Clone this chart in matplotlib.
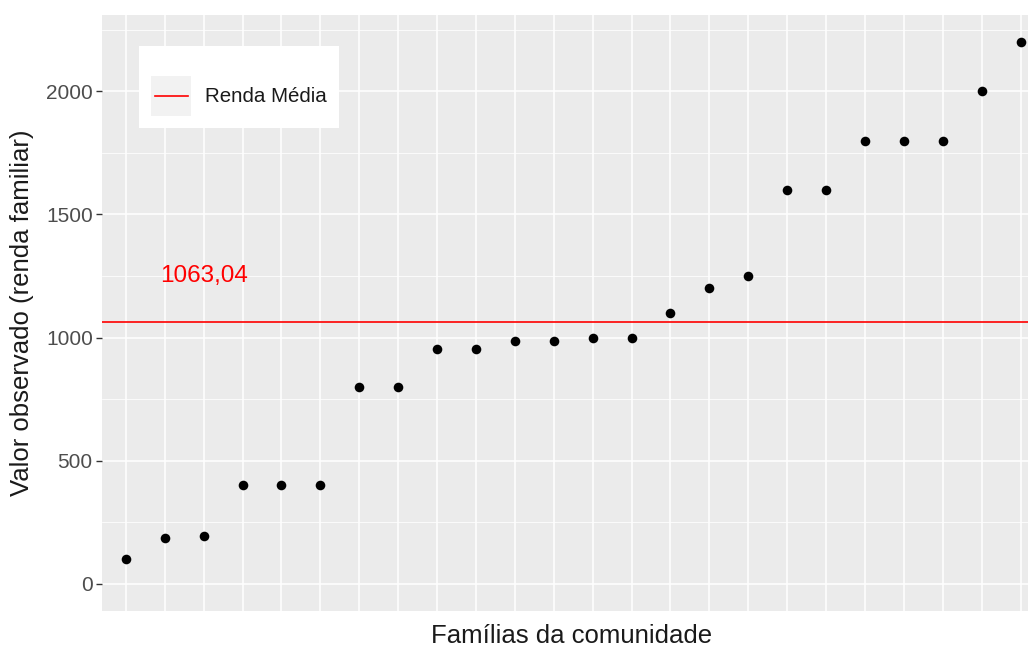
import numpy as np
import matplotlib
matplotlib.use("Agg")
import matplotlib.pyplot as plt
from matplotlib.legend_handler import HandlerBase
from matplotlib.patches import Rectangle
from matplotlib.lines import Line2D

# Renda familiar observada, ordenada
renda = [100, 185, 195, 400, 400, 400, 800, 800, 955, 955, 985, 985,
         1000, 1000, 1100, 1200, 1250, 1600, 1600, 1800, 1800, 1800, 2000, 2200]
media = 1063.04
media_label = "1063,04"
y_ticks = [0, 500, 1000, 1500, 2000]


class KeyHandler(HandlerBase):
	"""ggplot-like legend key: grey square with a short line."""

	def create_artists(self, legend, orig_handle, xdescent, ydescent,
	                   width, height, fontsize, trans):
		bg = Rectangle((-xdescent, -ydescent), width, height,
		               facecolor="#F2F2F2", edgecolor="none", transform=trans)
		pad = width * 0.09
		y = -ydescent + height / 2
		ln = Line2D([-xdescent + pad, -xdescent + width - pad], [y, y],
		            color=orig_handle.get_color(), lw=orig_handle.get_linewidth(),
		            transform=trans)
		return [bg, ln]


def main() -> None:
	plt.rcParams["font.family"] = ["Liberation Sans", "DejaVu Sans"]
	n = len(renda)
	x = np.arange(1, n + 1)

	fig = plt.figure(figsize=(10.28, 6.48), dpi=100)
	ax = fig.add_axes([0.0997, 0.0571, 0.9158, 0.9198])
	ax.set_facecolor("#EBEBEB")
	for s in ax.spines.values():
		s.set_visible(False)

	ax.set_xlim(0.4, n + 0.6)
	ax.set_ylim(-110, 2310)

	# grid
	ax.set_xticks(x)
	ax.set_yticks(y_ticks)
	ax.set_yticks(np.arange(250, 2300, 500), minor=True)
	ax.grid(which="major", color="white", lw=1.1)
	ax.grid(which="minor", axis="y", color="white", lw=0.55)
	ax.set_axisbelow(True)
	ax.tick_params(axis="x", which="both", length=0, labelbottom=False)
	ax.tick_params(axis="y", which="major", length=4, width=1.0, color="#333333",
	               labelcolor="#4D4D4D", labelsize=15, pad=3)
	ax.tick_params(axis="y", which="minor", length=0)

	line = ax.axhline(media, color="#FF0000", lw=1.2, label="Renda Média")
	ax.scatter(x, renda, s=48, color="black", zorder=3, linewidths=0)
	ax.text(3, 1250, media_label, color="#FF0000", fontsize=17.5,
	        ha="center", va="center")

	ax.set_xlabel("Famílias da comunidade", fontsize=18.5, color="#1A1A1A")
	ax.xaxis.set_label_coords(0.4987, -0.042)
	ax.xaxis.label.set_va("center")
	ax.set_ylabel("Valor observado (renda familiar)", fontsize=18.5,
	              color="#1A1A1A", va="center")
	ax.yaxis.set_label_coords(-0.0855, 0.5)

	leg = ax.legend(handles=[line], loc="upper left",
	                bbox_to_anchor=(139 / 1028, 1 - 46 / 648),
	                bbox_transform=fig.transFigure,
	                handler_map={Line2D: KeyHandler()},
	                fontsize=14.8, frameon=True, fancybox=False,
	                facecolor="white", edgecolor="none", framealpha=1,
	                borderpad=0.6, handlelength=1.95, handleheight=2.62,
	                handletextpad=0.68, borderaxespad=0,
	                title=" ", title_fontsize=5)
	for t in leg.get_texts():
		t.set_color("#1A1A1A")

	fig.savefig("out.png", dpi=100)


if __name__ == "__main__":
	main()
